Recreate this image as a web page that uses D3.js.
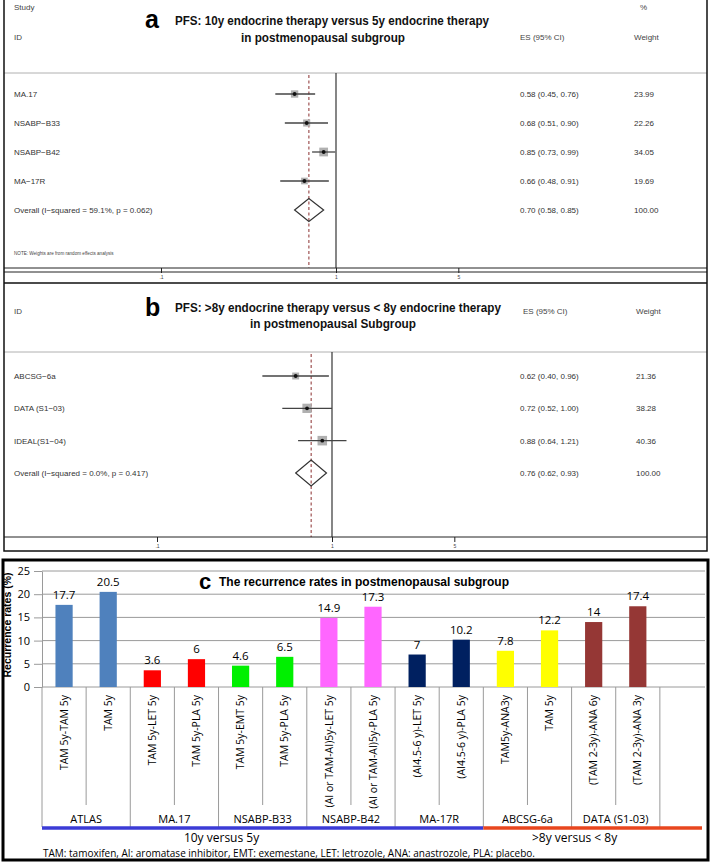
<!DOCTYPE html>
<html>
<head>
<meta charset="utf-8">
<script src="https://cdn.jsdelivr.net/npm/d3@7"></script>
<style>
  body { margin: 0; background: #fff; }
  svg { display: block; }
</style>
</head>
<body>
<svg id="fig" width="711" height="863"></svg>
<script>
// ---- panel a : 10y vs 5y ----
const aStudies = ['MA.17', 'NSABP\u2212B33', 'NSABP\u2212B42', 'MA\u221217R'];
const aES = [0.58, 0.68, 0.85, 0.66];
const aLow = [0.45, 0.51, 0.73, 0.48];
const aHigh = [0.76, 0.90, 0.99, 0.91];
const aWeight = [23.99, 22.26, 34.05, 19.69];
const aOverall = [0.70, 0.58, 0.85];
const aOverallLabel = 'Overall  (I\u2212squared = 59.1%, p = 0.062)';

// ---- panel b : >8y vs <8y ----
const bStudies = ['ABCSG\u22126a', 'DATA (S1\u221203)', 'IDEAL(S1\u221204)'];
const bES = [0.62, 0.72, 0.88];
const bLow = [0.40, 0.52, 0.64];
const bHigh = [0.96, 1.00, 1.21];
const bWeight = [21.36, 38.28, 40.36];
const bOverall = [0.76, 0.62, 0.93];
const bOverallLabel = 'Overall  (I\u2212squared = 0.0%, p = 0.417)';

const axisTicks = [0.1, 1, 5];
const axisTickLabels = ['.1', '1', '5'];

// ---- panel c : recurrence rates ----
const treatments = [
  'TAM 5y-TAM 5y', 'TAM 5y',
  'TAM 5y-LET 5y', 'TAM 5y-PLA 5y',
  'TAM 5y-EMT 5y', 'TAM 5y-PLA 5y',
  '(AI or TAM-AI)5y-LET 5y', '(AI or TAM-AI)5y-PLA 5y',
  '(AI4.5-6 y)-LET 5y', '(AI4.5-6 y)-PLA 5y',
  'TAM5y-ANA3y', 'TAM 5y',
  '(TAM 2-3y)-ANA 6y', '(TAM 2-3y)-ANA 3y'
];
const rates = [17.7, 20.5, 3.6, 6, 4.6, 6.5, 14.9, 17.3, 7, 10.2, 7.8, 12.2, 14, 17.4];
const groups = ['ATLAS', 'MA.17', 'NSABP-B33', 'NSABP-B42', 'MA-17R', 'ABCSG-6a', 'DATA (S1-03)'];
const groupColors = ['#4f81bd', '#ff0000', '#00f000', '#ff66ff', '#002060', '#ffff00', '#953735'];
const yTicks = [0, 5, 10, 15, 20, 25];
const comparisons = ['10y versus 5y', '>8y versus < 8y'];
const compColors = ['#3b3bd6', '#e8461e'];
const footnote = 'TAM: tamoxifen, AI: aromatase inhibitor, EMT: exemestane, LET: letrozole, ANA: anastrozole, PLA: placebo.';

const svg = d3.select('#fig');
svg.append('rect').attr('width', 711).attr('height', 863).attr('fill', '#fff');

const stata = '"Liberation Sans", Arial, sans-serif';
const cal = '"Liberation Sans Narrow", "Liberation Sans", Arial, sans-serif';

function forest(o) {
  const g = svg.append('g');
  const x = d3.scaleLog().domain([0.1, 1]).range(o.xr);
  const n = o.studies.length;
  const y = d3.scalePoint().domain(d3.range(n + 1)).range(o.yr);

  // header rule
  g.append('line').attr('x1', 4).attr('x2', 707).attr('y1', o.headY).attr('y2', o.headY)
    .attr('stroke', '#b0b0b0').attr('stroke-width', 1);

  // header texts
  o.header.forEach(h => {
    g.append('text').attr('x', h[0]).attr('y', h[1]).text(h[2])
      .attr('font-family', stata).attr('font-size', 8).attr('fill', '#444');
  });

  // reference lines
  g.append('line').attr('x1', x(1)).attr('x2', x(1)).attr('y1', o.headY).attr('y2', o.axisY)
    .attr('stroke', '#222').attr('stroke-width', 1.1);
  g.append('line').attr('x1', x(o.overall[0])).attr('x2', x(o.overall[0]))
    .attr('y1', o.headY + 2).attr('y2', o.axisY)
    .attr('stroke', '#8b2e2e').attr('stroke-width', 1).attr('stroke-dasharray', '3,2.5');

  const rows = d3.range(n);
  // weight squares
  g.selectAll('rect.w').data(rows).enter().append('rect')
    .attr('x', i => x(o.es[i]) - Math.sqrt(o.weight[i]) * 0.75)
    .attr('y', i => y(i) - Math.sqrt(o.weight[i]) * 0.75)
    .attr('width', i => Math.sqrt(o.weight[i]) * 1.5)
    .attr('height', i => Math.sqrt(o.weight[i]) * 1.5)
    .attr('fill', '#b0b0b0');
  // CI lines
  g.selectAll('line.ci').data(rows).enter().append('line')
    .attr('x1', i => x(o.low[i])).attr('x2', i => x(o.high[i]))
    .attr('y1', i => y(i)).attr('y2', i => y(i))
    .attr('stroke', '#444').attr('stroke-width', 1.3);
  // point
  g.selectAll('circle').data(rows).enter().append('circle')
    .attr('cx', i => x(o.es[i])).attr('cy', i => y(i)).attr('r', 1.9).attr('fill', '#111');

  // overall diamond
  const yo = y(n);
  g.append('path')
    .attr('d', `M${x(o.overall[1])},${yo}L${x(o.overall[0])},${yo - o.dh}L${x(o.overall[2])},${yo}L${x(o.overall[0])},${yo + o.dh}Z`)
    .attr('fill', 'none').attr('stroke', '#333').attr('stroke-width', 1.2);

  // left labels and right columns
  const labels = o.studies.concat([o.overallLabel]);
  const es = o.es.concat([o.overall[0]]), lo = o.low.concat([o.overall[1]]), hi = o.high.concat([o.overall[2]]);
  const wt = o.weight.concat([100]);
  const f = d3.format('.2f');
  d3.range(n + 1).forEach(i => {
    const a = (txt, xx) => g.append('text').attr('x', xx).attr('y', y(i) + 3).text(txt)
      .attr('font-family', stata).attr('font-size', 8).attr('fill', '#333');
    a(labels[i], 14);
    a(`${f(es[i])} (${f(lo[i])}, ${f(hi[i])})`, 520);
    a(f(wt[i]), o.wX);
  });

  if (o.note) {
    g.append('text').attr('x', 14).attr('y', o.noteY).text(o.note)
      .attr('font-family', stata).attr('font-size', 4.6).attr('fill', '#444');
  }

  // axis: full-width rule, then ticks from d3
  g.append('line').attr('x1', 4).attr('x2', 707).attr('y1', o.axisY).attr('y2', o.axisY)
    .attr('stroke', '#222').attr('stroke-width', 1);
  if (o.axisY2) {
    g.append('line').attr('x1', 4).attr('x2', 707).attr('y1', o.axisY2).attr('y2', o.axisY2)
      .attr('stroke', '#222').attr('stroke-width', 1);
  }
  const ax = g.append('g').attr('transform', `translate(0,${o.axisY})`)
    .call(d3.axisBottom(x).tickValues(axisTicks).tickFormat((d, i) => axisTickLabels[i])
      .tickSize(5).tickPadding(2).tickSizeOuter(0));
  ax.select('.domain').remove();
  ax.selectAll('.tick line').attr('stroke', '#222');
  ax.selectAll('text').attr('font-family', stata).attr('font-size', 5).attr('fill', '#444');

  // panel letter and title
  g.append('text').attr('x', 145).attr('y', o.titleY + 3).text(o.letter)
    .attr('font-family', stata).attr('font-weight', 'bold').attr('font-size', 25).attr('fill', '#000');
  o.title.forEach(t => {
    g.append('text').attr('x', t[0]).attr('y', t[1]).text(t[2])
      .attr('textLength', t[3]).attr('lengthAdjust', 'spacingAndGlyphs')
      .attr('font-family', cal).attr('font-weight', 'bold').attr('font-size', 12.5).attr('fill', '#111');
  });
}

forest({
  studies: aStudies, es: aES, low: aLow, high: aHigh, weight: aWeight,
  overall: aOverall, overallLabel: aOverallLabel,
  xr: [161, 336], yr: [94, 210], headY: 73, axisY: 268, axisY2: 272, dh: 11.5, wX: 634,
  header: [[14, 10, 'Study'], [640, 10, '%'], [14, 40, 'ID'], [520, 40, 'ES (95% CI)'], [634, 40, 'Weight']],
  note: 'NOTE: Weights are from random effects analysis', noteY: 255,
  letter: 'a', titleY: 25,
  title: [[175, 25, 'PFS: 10y endocrine therapy versus 5y endocrine therapy', 314],
          [241, 42, 'in postmenopausal subgroup', 164]]
});

forest({
  studies: bStudies, es: bES, low: bLow, high: bHigh, weight: bWeight,
  overall: bOverall, overallLabel: bOverallLabel,
  xr: [157, 332], yr: [376, 473], headY: 352, axisY: 537, dh: 13, wX: 636,
  header: [[14, 314, 'ID'], [523, 314, 'ES (95% CI)'], [636, 314, 'Weight']],
  letter: 'b', titleY: 313,
  title: [[175, 312, 'PFS: >8y endocrine therapy versus < 8y endocrine therapy', 326],
          [250, 328, 'in postmenopausal Subgroup', 166]]
});

// box around a and b
svg.append('path').attr('d', 'M4,0V551H707V0M4,283H707')
  .attr('fill', 'none').attr('stroke', '#111').attr('stroke-width', 1.5);

// ---- panel c ----
const c = svg.append('g');
c.append('rect').attr('x', 3).attr('y', 560).attr('width', 705).attr('height', 300)
  .attr('fill', 'none').attr('stroke', '#000').attr('stroke-width', 3);

const nCols = treatments.length + 1; // last column is empty
const xc = d3.scaleBand().domain(d3.range(nCols)).range([42, 704]);
const xb = d3.scaleBand().domain(d3.range(nCols)).range([42, 704]).paddingInner(0.61).paddingOuter(0.305);
const yc = d3.scaleLinear().domain([0, 25]).range([687, 571]);

// gridlines
c.selectAll('line.grid').data(yTicks).enter().append('line')
  .attr('x1', 42).attr('x2', 705).attr('y1', d => yc(d)).attr('y2', d => yc(d))
  .attr('stroke', '#9a9a9a').attr('stroke-width', 1);

const yAx = c.append('g').attr('transform', 'translate(42,0)')
  .call(d3.axisLeft(yc).tickValues(yTicks).tickSize(8).tickPadding(4).tickSizeOuter(0));
yAx.select('.domain').attr('stroke', '#9a9a9a');
yAx.selectAll('.tick line').attr('stroke', '#9a9a9a');
yAx.selectAll('text').attr('font-family', '"Open Sans", sans-serif').attr('font-size', 11).attr('fill', '#000');

c.append('text').attr('transform', 'translate(11,625) rotate(-90)')
  .attr('text-anchor', 'middle').text('Recurrence rates (%)')
  .attr('textLength', 105).attr('lengthAdjust', 'spacingAndGlyphs')
  .attr('font-family', cal).attr('font-weight', 'bold').attr('font-size', 11);

// bars
const barIdx = d3.range(rates.length);
c.selectAll('rect.bar').data(barIdx).enter().append('rect')
  .attr('x', i => xb(i)).attr('width', xb.bandwidth())
  .attr('y', i => yc(rates[i])).attr('height', i => yc(0) - yc(rates[i]))
  .attr('fill', i => groupColors[Math.floor(i / 2)]);

c.selectAll('text.val').data(barIdx).enter().append('text')
  .attr('x', i => xb(i) + xb.bandwidth() / 2).attr('y', i => yc(rates[i]) - 6)
  .attr('text-anchor', 'middle').text(i => rates[i])
  .attr('font-family', '"Open Sans", sans-serif').attr('font-size', 11.5).attr('fill', '#000');

// category labels (rotated)
c.selectAll('text.cat').data(barIdx).enter().append('text')
  .attr('transform', i => `translate(${xc(i) + xc.bandwidth() / 2},695) rotate(-90)`)
  .attr('text-anchor', 'end').attr('dy', '0.35em').text(i => treatments[i])
  .attr('font-family', '"Open Sans", sans-serif').attr('font-size', 10.5).attr('fill', '#000');

// table separators: long between studies, short within a study
c.selectAll('line.sep').data(d3.range(nCols)).enter().append('line')
  .attr('x1', i => xc(i)).attr('x2', i => xc(i))
  .attr('y1', yc(0)).attr('y2', i => i % 2 === 0 ? 827 : 805)
  .attr('stroke', '#9a9a9a').attr('stroke-width', 1);

// study names
c.selectAll('text.grp').data(groups).enter().append('text')
  .attr('x', (d, i) => xc(i * 2 + 1)).attr('y', 823)
  .attr('text-anchor', 'middle').text(d => d)
  .attr('font-family', '"Open Sans", sans-serif').attr('font-size', 11).attr('fill', '#000');

// comparison brackets
const compSpan = [[0, 10], [10, nCols]];
const compTextAt = [4, 12];
compSpan.forEach((s, k) => {
  c.append('line').attr('x1', xc(s[0])).attr('x2', k === 1 ? 702 : xc(s[1]))
    .attr('y1', 828).attr('y2', 828)
    .attr('stroke', compColors[k]).attr('stroke-width', 3.5);
  c.append('text').attr('x', xc(compTextAt[k]) + 3).attr('y', 842)
    .attr('text-anchor', 'middle').text(comparisons[k])
    .attr('font-family', '"Open Sans", sans-serif').attr('font-size', 12).attr('fill', '#000');
});

c.append('text').attr('x', 43).attr('y', 857).text(footnote)
  .attr('textLength', 492).attr('lengthAdjust', 'spacingAndGlyphs')
  .attr('font-family', '"Open Sans", sans-serif').attr('font-size', 10.5).attr('fill', '#000');

// title c
c.append('text').attr('x', 199).attr('y', 589).text('c')
  .attr('font-family', stata).attr('font-weight', 'bold').attr('font-size', 22);
c.append('text').attr('x', 219).attr('y', 586).text('The recurrence rates in postmenopausal subgroup')
  .attr('textLength', 290).attr('lengthAdjust', 'spacingAndGlyphs')
  .attr('font-family', cal).attr('font-weight', 'bold').attr('font-size', 13);
</script>
</body>
</html>
